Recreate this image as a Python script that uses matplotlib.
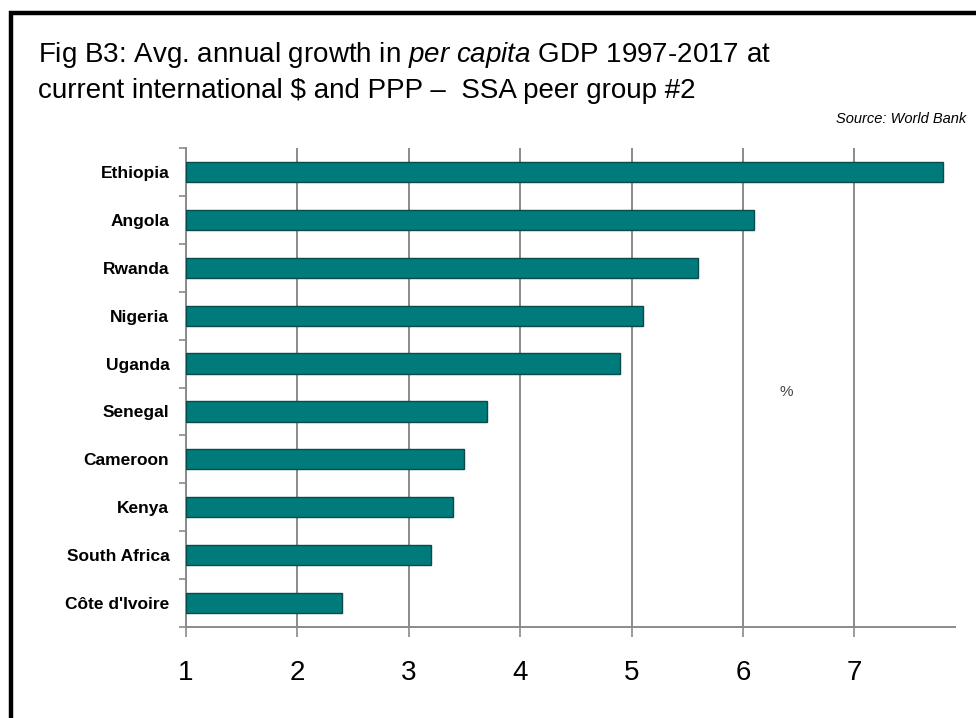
import matplotlib.pyplot as plt
from matplotlib.patches import Rectangle
import numpy as np

countries = ["Ethiopia", "Angola", "Rwanda", "Nigeria", "Uganda",
             "Senegal", "Cameroon", "Kenya", "South Africa", "Côte d'Ivoire"]
growth = [7.8, 6.1, 5.6, 5.1, 4.9, 3.7, 3.5, 3.4, 3.2, 2.4]
x_ticks = [1, 2, 3, 4, 5, 6, 7]

BAR = "#007b7b"
EDGE = "#0b4a4a"
GRID = "#8a8a8a"

plt.rcParams["font.family"] = ["Liberation Sans", "DejaVu Sans"]
plt.rcParams["mathtext.fontset"] = "custom"
plt.rcParams["mathtext.rm"] = "Liberation Sans"
plt.rcParams["mathtext.it"] = "Liberation Sans:italic"

fig = plt.figure(figsize=(9.76, 7.18), dpi=100)
ax = fig.add_axes([0.1906, 0.1267, 0.7874, 0.6672])

y = np.arange(len(countries))
ax.barh(y, [g - 1 for g in growth], left=1, height=0.42,
        color=BAR, edgecolor=EDGE, linewidth=1.0, zorder=3)

ax.set_xlim(1, 7.9)
ax.set_ylim(len(countries) - 0.5, -0.5)

ax.set_xticks(x_ticks)
ax.set_xticklabels([str(t) for t in x_ticks], fontsize=20)
ax.tick_params(axis="x", direction="out", length=7, width=1.2, color=GRID, pad=17)
ax.xaxis.grid(True, color=GRID, linewidth=1.4, zorder=0)

ax.set_yticks(y)
ax.set_yticklabels(countries, fontsize=12.5, fontweight="bold")
ax.set_yticks(np.arange(-0.5, len(countries), 1), minor=True)
ax.tick_params(axis="y", which="major", length=0, pad=12)
ax.tick_params(axis="y", which="minor", direction="out", length=5, width=1.2, color=GRID)

for side in ["top", "right"]:
    ax.spines[side].set_visible(False)
for side in ["left", "bottom"]:
    ax.spines[side].set_color(GRID)
    ax.spines[side].set_linewidth(1.4)

fig.text(780 / 976, 1 - 396 / 718, "%", fontsize=11, color="#444444")

fig.text(38 / 976, 1 - 62 / 718,
         "Fig B3: Avg. annual growth in $\\it{per\\ capita}$ GDP 1997-2017 at",
         fontsize=20, va="baseline")
fig.text(38 / 976, 1 - 98 / 718,
         "current international \\$ and PPP \u2013  SSA peer group #2",
         fontsize=20, va="baseline")
fig.text(966 / 976, 1 - 123 / 718, "Source: World Bank",
         fontsize=10.5, style="italic", ha="right", va="baseline")

# black frame, open to the right and bottom
fig.patches.append(Rectangle((11 / 976, -0.2), 1.2, 1.2 - 13 / 718,
                             transform=fig.transFigure, fill=False,
                             edgecolor="black", linewidth=3.2))

fig.savefig("out.png", dpi=100)
